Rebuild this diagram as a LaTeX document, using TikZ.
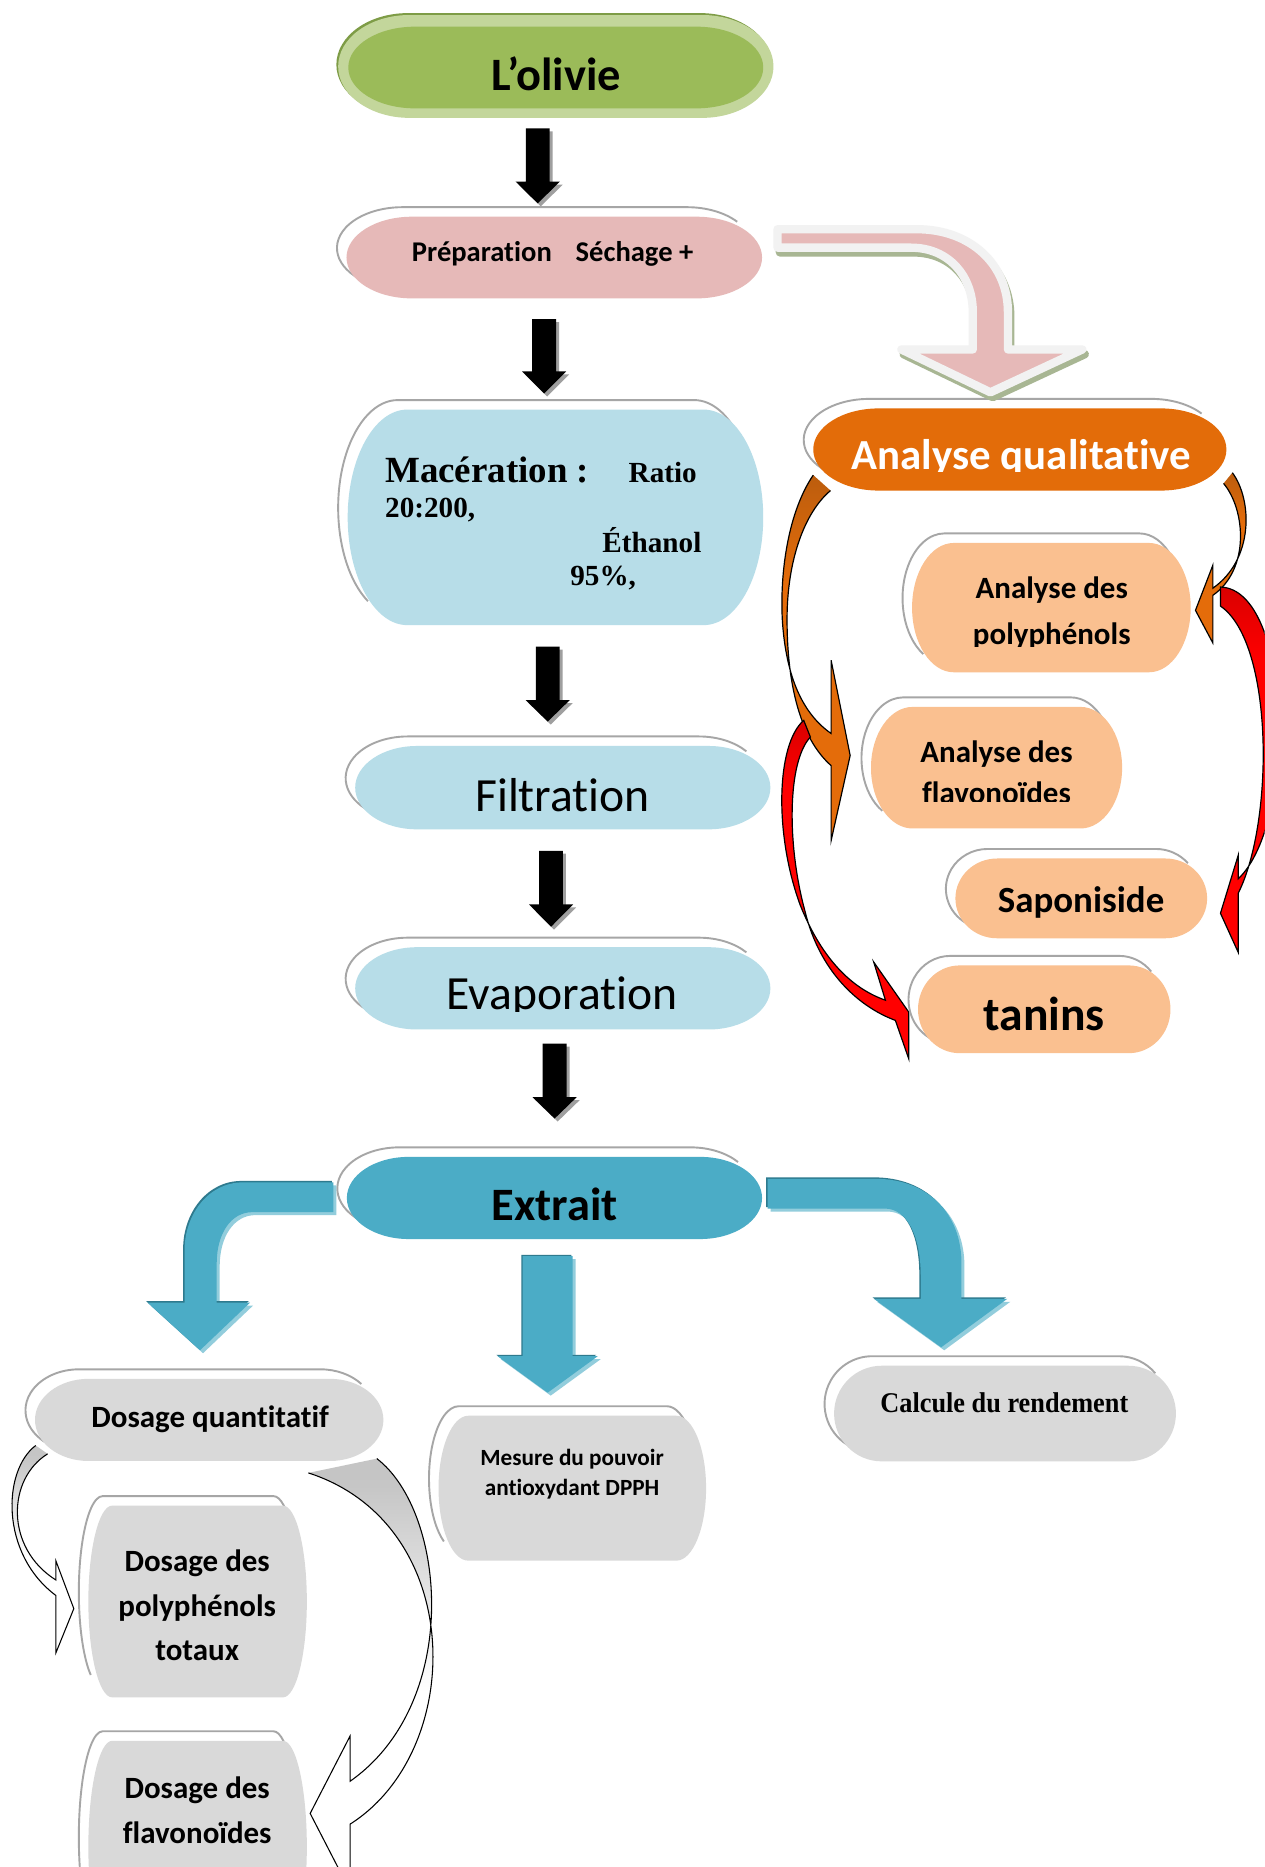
\documentclass[tikz,border=0pt]{standalone}
\usepackage{fontspec}
\newfontfamily\carl[Ligatures=NoCommon]{Carlito}
\newfontfamily\tnr{Liberation Serif}
\newfontfamily\tnrc[FakeStretch=0.92]{Liberation Serif}
\newcommand{\fsz}[1]{\fontsize{#1}{#1}\selectfont}
\definecolor{olivec}{HTML}{9BBB59}
\definecolor{olivelt}{HTML}{C3D69B}
\definecolor{olivedk}{HTML}{7E9C46}
\definecolor{pinkc}{HTML}{E6B9B8}
\definecolor{pinkedge}{HTML}{F2F2F2}
\definecolor{pinkshadow}{HTML}{A8B693}
\definecolor{lblue}{HTML}{B7DDE8}
\definecolor{extc}{HTML}{4BACC6}
\definecolor{bluelt}{HTML}{92CDDC}
\definecolor{bluedk}{HTML}{2E7A8E}
\definecolor{orangeq}{HTML}{E36C09}
\definecolor{lorange}{HTML}{FAC090}
\definecolor{greyc}{HTML}{D9D9D9}
\definecolor{rimc}{HTML}{A6A6A6}
\definecolor{orD}{HTML}{B45A0E}
\definecolor{orC}{HTML}{E46C0A}
\definecolor{rdD}{HTML}{C00000}
\definecolor{rdC}{HTML}{FF0000}
\pgfdeclareverticalshading{orfade}{100bp}{color(0bp)=(orC); color(60bp)=(orC); color(78bp)=(orD); color(100bp)=(orD)}
\pgfdeclareverticalshading{rdfade}{100bp}{color(0bp)=(rdC); color(65bp)=(rdC); color(82bp)=(rdD); color(100bp)=(rdD)}
\pgfdeclareverticalshading{gfade}{100bp}{color(0bp)=(white); color(48bp)=(white); color(72bp)=(gray!45); color(100bp)=(gray!50)}
% flowchart-terminator outline: x1,y1,x2,y2,rx
\newcommand{\termpath}[5]{({#1+#5},#2) -- ({#3-#5},#2) arc[start angle=-90,end angle=90,x radius=#5,y radius={(#4-#2)/2}] -- ({#1+#5},#4) arc[start angle=90,end angle=270,x radius=#5,y radius={(#4-#2)/2}] -- cycle}
\newcommand{\pill}[6]{%
 \pgfmathsetmacro{\pillxa}{#1-8}%
 \pgfmathsetmacro{\pillxb}{#2-8}%
 \pgfmathsetmacro{\pillxc}{#3-8}%
 \pgfmathsetmacro{\pillxd}{#4-8}%
 \pgfmathsetmacro{\pillxr}{(#4-#2)/2}%
 \pgfmathsetmacro{\pillxy}{(#2+#4)/2-8}%
 \fill[white] \termpath{\pillxa}{\pillxb}{\pillxc}{\pillxd}{#5};
 \draw[rimc, line width=1.6] ({\pillxa+#5+#5*cos(120)},{\pillxy+\pillxr*sin(120)}) arc[start angle=120,end angle=270,x radius=#5,y radius=\pillxr] -- ({\pillxc-#5},\pillxb) arc[start angle=-90,end angle=-40,x radius=#5,y radius=\pillxr];
 \fill[#6] \termpath{#1}{#2}{#3}{#4}{#5};
}
\newcommand{\blackarrow}[4]{%
 \fill[gray!75, shift={(2.5,2.5)}] ({#1-10},#2) -- ({#1+10},#2) -- ({#1+10},#3) -- ({#1+18.5},#3) -- (#1,#4) -- ({#1-18.5},#3) -- ({#1-10},#3) -- cycle;
 \fill[black] ({#1-10},#2) -- ({#1+10},#2) -- ({#1+10},#3) -- ({#1+18.5},#3) -- (#1,#4) -- ({#1-18.5},#3) -- ({#1-10},#3) -- cycle;
}
\tikzset{txt/.style={inner sep=0pt, outer sep=0pt}}
\begin{document}
\begin{tikzpicture}[x=1pt,y=-1pt]
\useasboundingbox (0,0) rectangle (1062,1568);
\clip (0,0) rectangle (1062,1568);
\fill[white] (0,0) rectangle (1062,1568);

% ---------- curved arrows of the qualitative analysis ----------
\def\olA{(683,399) .. controls (662,430) and (655,480) .. (657,520) .. controls (660,570) and (675,600) .. (698,616) -- (698,554.5) -- (714,634.5) -- (698,706) -- (698,643) .. controls (672,620) and (661,575) .. (661,520) .. controls (661,470) and (676,430) .. (697.5,412)}
\shade[shading=orfade] \olA -- cycle;
\draw[line width=1] \olA;
\def\orA{(1035,397) .. controls (1052,420) and (1053,470) .. (1018.6,494) -- (1018.6,474.7) -- (1004,512.6) -- (1018.6,540) -- (1018.6,500) .. controls (1050,478) and (1046,428) .. (1027.6,406)}
\shade[shading=orfade] \orA -- cycle;
\draw[line width=1] \orA;
\shadedraw[shading=rdfade, draw=black, line width=1] (1025,493) .. controls (1085,495) and (1090,690) .. (1040,738) -- (1040,718) -- (1025,767) -- (1040,800) -- (1040,750) .. controls (1070,690) and (1070,540) .. (1025,509) -- cycle;
\shadedraw[shading=rdfade, draw=black, line width=1] (675,605) .. controls (652,625) and (650,700) .. (672,760) .. controls (690,805) and (715,830) .. (743.6,840) -- (733.8,808) -- (763.2,850) -- (763.2,889.2) -- (752,857) .. controls (720,845) and (688,815) .. (676,765) .. controls (661,710) and (661,640) .. (680.6,619) -- cycle;

% ---------- outlined arrows of the quantitative dosage ----------
\def\sbA{(30,1214) .. controls (2,1235) and (0,1305) .. (47,1340) -- (47,1388) -- (62,1351) -- (47,1311) -- (47,1327) .. controls (4,1300) and (6,1242) .. (40,1221)}
\shade[shading=gfade] \sbA -- cycle;
\draw[line width=0.9] \sbA;
\def\lbA{(316.5,1225) .. controls (375,1270) and (388,1430) .. (294,1496) -- (294,1458) -- (260.5,1523) -- (294,1588) -- (294,1532) .. controls (392,1470) and (392,1280) .. (259,1237)}
\shade[shading=gfade] \lbA -- cycle;
\draw[line width=0.9] \lbA;

% ---------- boxes ----------
\fill[olivedk] \termpath{282.5}{11}{648}{97.5}{60};
\fill[olivelt] \termpath{284}{12.6}{649.6}{99}{60};
\fill[olivec] \termpath{292.5}{22.4}{641}{91}{56};
\pill{291}{182}{640}{250.6}{55}{pinkc}
\pill{292}{344}{641}{525}{50}{lblue}
\pill{298.3}{626.5}{647}{696.5}{52}{lblue}
\pill{298.3}{795.5}{647}{864.6}{52}{lblue}
\pill{291.3}{971.6}{640}{1040.6}{52}{extc}
\pill{683}{343}{1030}{412}{55}{orangeq}
\pill{766}{456}{1000}{564.6}{35}{lorange}
\pill{731.5}{593.7}{942.4}{695.8}{35}{lorange}
\pill{802.4}{721}{1013.8}{788}{35}{lorange}
\pill{771}{810.8}{983}{884.5}{35}{lorange}
\pill{29.4}{1158}{322}{1227}{45}{greyc}
\pill{368.3}{1189}{593}{1310.7}{25}{greyc}
\pill{700.5}{1147}{987.6}{1227.3}{40}{greyc}
\pill{74.2}{1264.5}{257.7}{1425.5}{20}{greyc}
\pill{74.2}{1462}{257.7}{1640}{20}{greyc}

% ---------- black block arrows ----------
\blackarrow{451.6}{107.8}{152.6}{170.8}
\blackarrow{457}{268}{312}{330.5}
\blackarrow{460}{543}{588}{606}
\blackarrow{462.8}{714.5}{759.6}{778.3}
\blackarrow{465.8}{876.4}{921.5}{939.4}

% ---------- pink bent arrow ----------
\def\pinkA{(653,192.5) -- (770,192.5) .. controls (815,192.5) and (846.5,222) .. (846.5,262) -- (846.5,293.5) -- (909,293.5) -- (831.8,329.5) -- (757,293.5) -- (817,293.5) -- (817,262) .. controls (817,232) and (797,208) .. (765,208) -- (653,208) -- cycle}
\filldraw[fill=pinkshadow, draw=pinkshadow, line width=7, line join=round, shift={(2,4)}] \pinkA;
\filldraw[fill=pinkc, draw=pinkedge, line width=7, line join=round] \pinkA;

% ---------- blue arrows from Extrait ----------
\def\blA{(280,993) -- (204,993) .. controls (175,993) and (155,1020) .. (155,1050) -- (155,1094) -- (124,1094) -- (168,1134) -- (210,1094) -- (182,1094) -- (182,1061) .. controls (182,1036) and (194,1018) .. (212,1018) -- (280,1018) -- cycle}
\def\bmA{(439,1055) -- (481,1055) -- (481,1139) -- (502,1139) -- (460,1169.6) -- (418,1139) -- (439,1139) -- cycle}
\def\brA{(644.7,990) -- (735,990) .. controls (780,990) and (807.5,1020) .. (807.5,1061) -- (807.5,1090.8) -- (846,1090.8) -- (790.5,1131.5) -- (734,1090.8) -- (773.3,1090.8) -- (773.3,1072) .. controls (773.3,1038) and (762,1015) .. (743,1015) -- (644.7,1015) -- cycle}
\foreach \p in {\blA,\bmA,\brA}{
  \fill[bluelt, shift={(2.5,2.5)}] \p;
  \fill[bluedk, shift={(-1.2,-1.2)}] \p;
  \fill[extc] \p;
}

% ---------- texts ----------
\node[txt, font=\carl\bfseries\fsz{39}, anchor=base] (olivie) at (467,75.6) {L’olivie};
\node[txt, font=\carl\bfseries\fsz{24}, anchor=base west] (prep) at (346,219.9) {Préparation\hspace{20pt}Séchage +};
\node[txt, font=\tnr\bfseries\fsz{31}, anchor=base west] (macer) at (323.5,405) {Macération :};
\node[txt, font=\tnr\bfseries\fsz{24.5}, anchor=base west] (ratio) at (528,405) {Ratio};
\node[txt, font=\tnr\bfseries\fsz{24.5}, anchor=base west] (ratiov) at (323.5,435) {20:200,};
\node[txt, font=\tnr\bfseries\fsz{24.5}, anchor=base west] (ethanol) at (506,464) {Éthanol};
\node[txt, font=\tnr\bfseries\fsz{24.5}, anchor=base west] (ethv) at (479,491.5) {95\%,};
\node[txt, font=\carl\fsz{40}, anchor=base] (filtr) at (472.5,681.4) {Filtration};
\begin{scope}
\clip (300,780) rectangle (650,849.5);
\node[txt, font=\carl\fsz{40}, anchor=base] (evap) at (472,847.8) {Evaporation};
\end{scope}
\node[txt, font=\carl\bfseries\fsz{39}, anchor=base] (extrait) at (466,1025) {Extrait};
\begin{scope}
\clip (690,340) rectangle (1030,396);
\node[txt, font=\carl\bfseries\fsz{36}, anchor=base, text=white] (qual) at (857.8,394) {Analyse qualitative};
\end{scope}
\node[txt, font=\carl\bfseries\fsz{26}, anchor=base] (poly1) at (883.3,503) {Analyse des};
\begin{scope}
\clip (770,510) rectangle (1000,543);
\node[txt, font=\carl\bfseries\fsz{26}, anchor=base] (poly2) at (883.3,541) {polyphénols};
\end{scope}
\node[txt, font=\carl\bfseries\fsz{26}, anchor=base] (flav1) at (836.9,640) {Analyse des};
\begin{scope}
\clip (735,645) rectangle (940,673.5);
\node[txt, font=\carl\bfseries\fsz{26}, anchor=base] (flav2) at (836.9,675) {flavonoïdes};
\end{scope}
\node[txt, font=\carl\bfseries\fsz{31}, anchor=base] (sapo) at (907.9,766) {Saponiside};
\node[txt, font=\carl\bfseries\fsz{40}, anchor=base] (tanins) at (876.9,865.4) {tanins};
\node[txt, font=\carl\bfseries\fsz{26}, anchor=base] (dosq) at (176.5,1199) {Dosage quantitatif};
\node[txt, font=\carl\bfseries\fsz{19.5}, anchor=base] (mes1) at (480.5,1231) {Mesure du pouvoir};
\node[txt, font=\carl\bfseries\fsz{19.5}, anchor=base] (mes2) at (480.5,1256) {antioxydant DPPH};
\node[txt, font=\tnrc\bfseries\fsz{24}, anchor=base] (calc) at (843.5,1186) {Calcule du rendement};
\node[txt, font=\carl\bfseries\fsz{26}, anchor=base] (dp1) at (165.6,1319.7) {Dosage des};
\node[txt, font=\carl\bfseries\fsz{26}, anchor=base] (dp2) at (165.6,1357.2) {polyphénols};
\node[txt, font=\carl\bfseries\fsz{26}, anchor=base] (dp3) at (165.6,1394.8) {totaux};
\node[txt, font=\carl\bfseries\fsz{26}, anchor=base] (df1) at (165.6,1510.8) {Dosage des};
\node[txt, font=\carl\bfseries\fsz{26}, anchor=base] (df2) at (165.6,1548.6) {flavonoïdes};
\end{tikzpicture}
\end{document}
